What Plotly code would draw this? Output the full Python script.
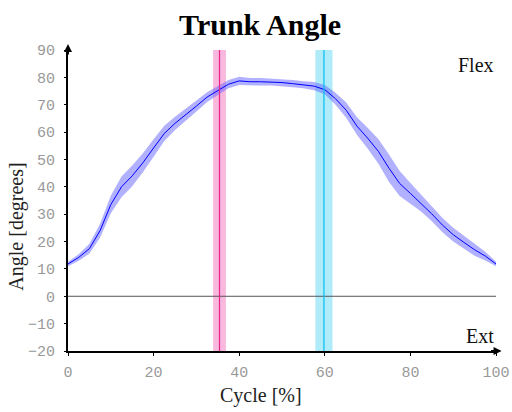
import plotly.graph_objects as go

# ---- data ----
cycle = [0, 2.5, 5, 7.5, 10, 12.5, 15, 17.5, 20, 22.5, 25, 27.5, 30, 32.5, 35, 37.5,
         40, 42.5, 45, 47.5, 50, 52.5, 55, 57.5, 60, 62.5, 65, 67.5, 70, 72.5, 75,
         77.5, 80, 82.5, 85, 87.5, 90, 92.5, 95, 97.5, 100]
mean_angle = [11.8, 14.2, 17.4, 24.0, 33.5, 40.0, 44.0, 48.8, 54.2, 59.5, 63.2, 66.2,
              69.5, 72.8, 75.2, 77.5, 78.7, 78.4, 78.4, 78.3, 78.1, 77.7, 77.3, 76.8,
              75.5, 72.2, 68.0, 62.2, 57.8, 53.0, 46.8, 41.2, 37.6, 34.0, 30.1, 26.0,
              22.5, 19.7, 17.0, 14.7, 11.8]
sd_angle = [0.8, 1.2, 1.8, 2.5, 3.2, 3.8, 3.8, 3.5, 3.2, 2.8, 2.4, 2.2, 2.0, 1.8, 1.6,
            1.5, 1.5, 1.4, 1.4, 1.3, 1.3, 1.3, 1.3, 1.5, 1.7, 2.2, 2.8, 3.2, 3.8, 4.5,
            5.0, 4.6, 3.8, 3.0, 2.7, 2.6, 2.5, 2.4, 2.2, 1.6, 0.8]

event_pos = [35.4, 59.8]
event_halfwidth = [1.5, 2.0]
event_band_colors = ["#f9b8de", "#b0ebfa"]
event_line_colors = ["#e6248c", "#00bff5"]

x_ticks = [0, 20, 40, 60, 80, 100]
y_ticks = [-20, -10, 0, 10, 20, 30, 40, 50, 60, 70, 80, 90]

upper = [m + s for m, s in zip(mean_angle, sd_angle)]
lower = [m - s for m, s in zip(mean_angle, sd_angle)]

fig = go.Figure()
fig.add_trace(go.Scatter(x=cycle, y=upper, mode="lines", line=dict(width=0),
                         showlegend=False, hoverinfo="skip"))
fig.add_trace(go.Scatter(x=cycle, y=lower, mode="lines", line=dict(width=0),
                         fill="tonexty", fillcolor="rgba(100,100,255,0.5)",
                         showlegend=False, hoverinfo="skip"))
fig.add_trace(go.Scatter(x=cycle, y=mean_angle, mode="lines",
                         line=dict(color="#0000ff", width=1), showlegend=False))

shapes = []
for p, hw, bc, lc in zip(event_pos, event_halfwidth, event_band_colors, event_line_colors):
    shapes.append(dict(type="rect", xref="x", yref="paper", x0=p - hw, x1=p + hw,
                       y0=0, y1=1.0, fillcolor=bc, line=dict(width=0), layer="below"))
    shapes.append(dict(type="line", xref="x", yref="paper", x0=p, x1=p, y0=0, y1=1.0,
                       line=dict(color=lc, width=1.2), layer="above"))
# zero line
shapes.append(dict(type="line", xref="paper", yref="y", x0=0, x1=1, y0=0, y1=0,
                   line=dict(color="#555555", width=1), layer="below"))

tick_font = dict(family="Liberation Mono", size=15, color="#999999")
serif = "Liberation Serif"

annotations = [
    dict(text="Flex", xref="paper", yref="paper", x=1.0, y=0.95, xanchor="right",
         yanchor="middle", showarrow=False, font=dict(family=serif, size=20, color="#111")),
    dict(text="Ext", xref="paper", yref="paper", x=1.0, y=0.05, xanchor="right",
         yanchor="middle", showarrow=False, font=dict(family=serif, size=20, color="#111")),
    dict(text="Angle [degrees]", xref="paper", yref="paper", x=-0.12, y=0.412,
         xanchor="center", yanchor="middle", textangle=-90, showarrow=False,
         font=dict(family=serif, size=20, color="#222")),
    dict(text="Cycle [%]", xref="paper", yref="paper", x=0.451, y=-0.148,
         xanchor="center", yanchor="middle", showarrow=False,
         font=dict(family=serif, size=20, color="#222")),
    # axis arrows
    dict(text="", xref="paper", yref="paper", x=0, y=1.02, ax=0, ay=12,
         showarrow=True, arrowhead=2, arrowsize=0.8, arrowwidth=2, arrowcolor="black"),
    dict(text="", xref="paper", yref="paper", x=1.013, y=0, ax=-12, ay=0,
         showarrow=True, arrowhead=2, arrowsize=0.8, arrowwidth=2, arrowcolor="black"),
]

fig.update_layout(
    width=512, height=412,
    margin=dict(l=68, r=16, t=50, b=61, autoexpand=False),
    paper_bgcolor="white", plot_bgcolor="white",
    title=dict(text="<b>Trunk Angle</b>", x=0.508, xanchor="center", y=0.94,
               yanchor="middle", automargin=False,
               font=dict(family=serif, size=30, color="black")),
    xaxis=dict(range=[0, 100], tickvals=x_ticks, showgrid=False, zeroline=False,
               automargin=False,
               showline=True, linecolor="black", linewidth=2, ticks="outside",
               ticklen=3, tickcolor="black", tickwidth=1, tickfont=tick_font,
               ticklabelstandoff=3),
    yaxis=dict(range=[-20, 90], tickvals=y_ticks, showgrid=False, zeroline=False,
               automargin=False,
               showline=True, linecolor="black", linewidth=2, ticks="outside",
               ticklen=2, tickcolor="black", tickwidth=1, tickfont=tick_font,
               ticklabelstandoff=6),
    shapes=shapes,
    annotations=annotations,
)

fig.write_html("out.html")
